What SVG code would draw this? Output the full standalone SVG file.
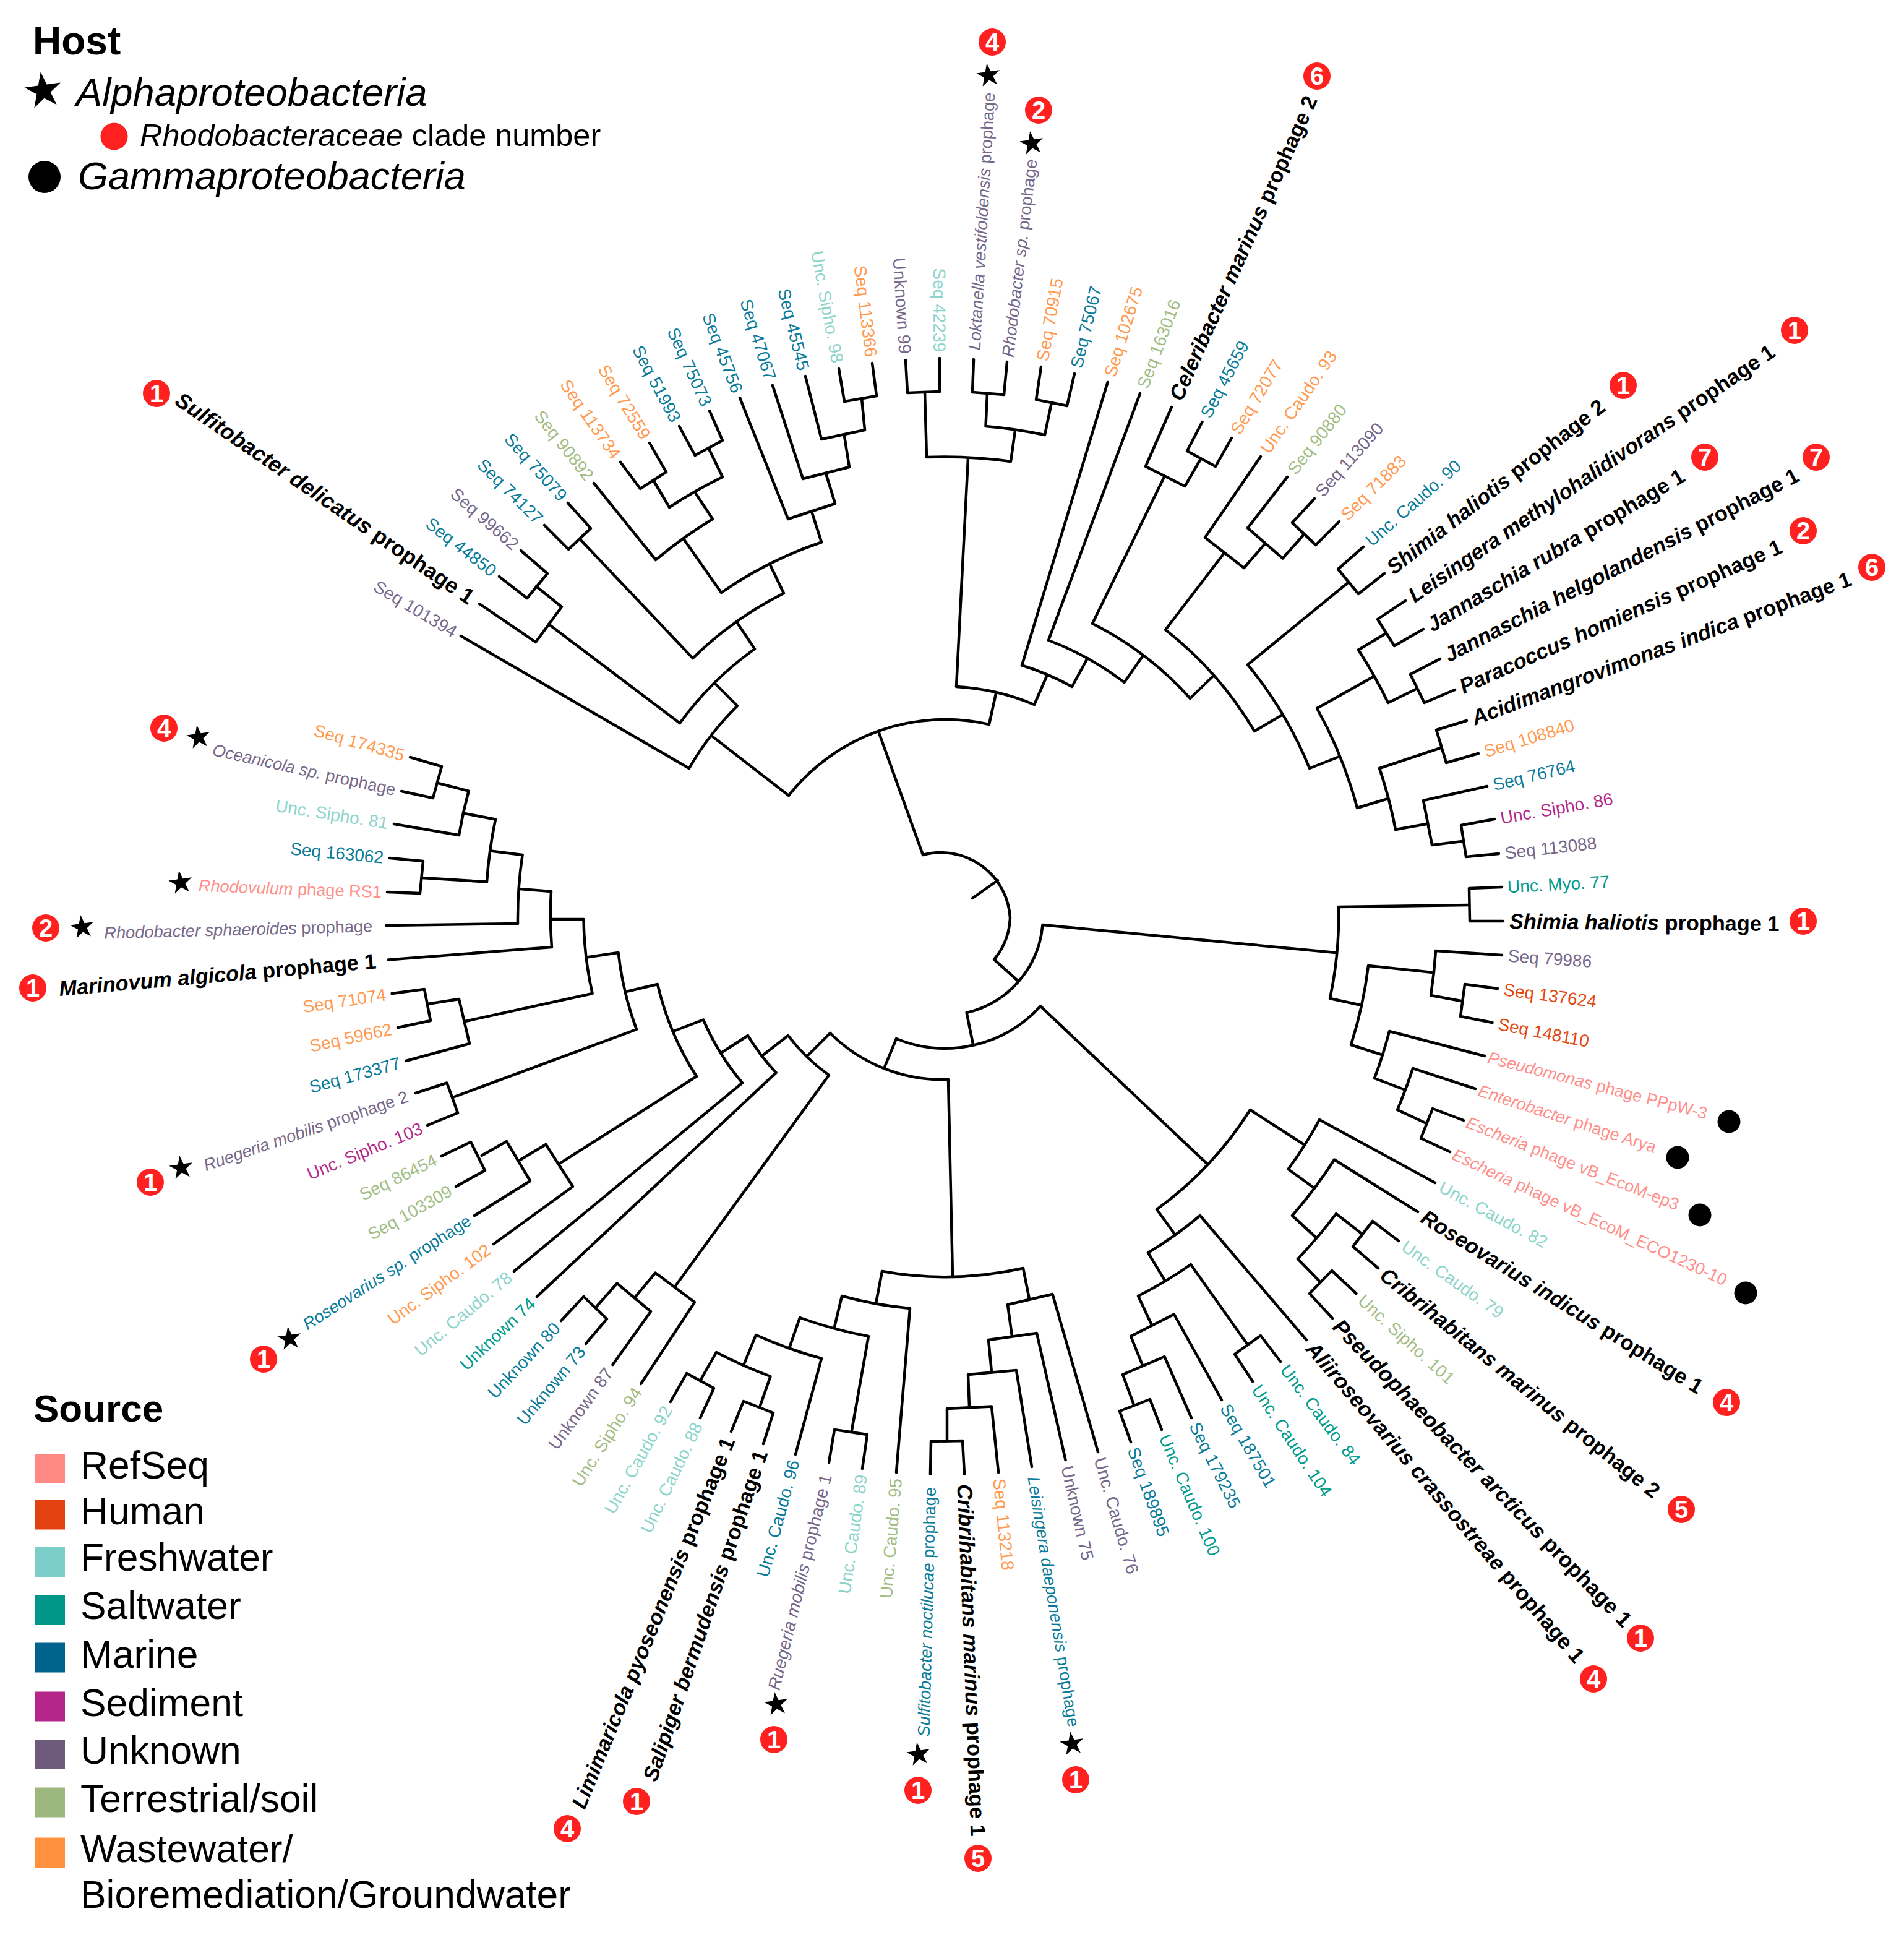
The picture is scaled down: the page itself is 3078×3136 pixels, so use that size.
<svg xmlns="http://www.w3.org/2000/svg" width="3078" height="3136" viewBox="0 0 3078 3136">
<style>
text{font-family:"Liberation Sans",Arial,sans-serif}
.l{font-size:28px}
.p{font-size:27.2px}
.k{font-size:34.3px;font-weight:bold;fill:#000}
.e{text-anchor:end}
.i{font-style:italic}
.m{fill:#0A7C9A}.u{fill:#75688A}.f{fill:#8DD5CB}.s{fill:#009C8E}.h{fill:#E2490F}.r{fill:#FF8F8A}.t{fill:#A3BD85}.w{fill:#FF9A50}.d{fill:#B5278A}
.c path{fill:none;stroke:#000;stroke-width:4.5;stroke-linejoin:round;stroke-linecap:round}
.b{fill:#FF2020}
.bt{fill:#fff;font-size:40px;font-weight:bold;text-anchor:middle;transform:translateY(2px)}
.lg{font-size:62.3px;fill:#000}
</style>
<defs>
<polygon id="star" fill="#000" transform="rotate(-8)" points="0,-20 4.5,-6.2 19,-6.2 7.3,2.4 11.8,16.2 0,7.6 -11.8,16.2 -7.3,2.4 -19,-6.2 -4.5,-6.2"/>
</defs>
<rect width="3078" height="3136" fill="#fff"/>

<g id="connectors" class="c">
<path d="M1356 596L1365 649L1417 640L1410 587"/>
<path d="M1302 608L1328 710L1398 695L1393 644"/>
<path d="M1249 623L1298 774L1373 755L1365 705"/>
<path d="M1196 643L1274 839L1350 814L1335 765"/>
<path d="M1098 689L1123.5 736L1168 712L1147 664"/>
<path d="M1003 747L1035 790L1077 763L1050 716"/>
<path d="M1056 776L1082 820A795 795 0 0 1 1168 771L1146 725.5"/>
<path d="M960 781L1060 905A744 744 0 0 1 1152 839L1125 798"/>
<path d="M1105 871L1166 958A637 637 0 0 1 1328 876.5L1312 826.5"/>
<path d="M880 849L919 888L955 854L918 813"/>
<path d="M937 871L1120 1064A582 582 0 0 1 1267 959L1245 913"/>
<path d="M807 932L852 967L885 927L842 890"/>
<path d="M775 976L866 1038L908 981L867 948"/>
<path d="M887 1009L1099 1169A529 529 0 0 1 1220 1049L1192 1007"/>
<path d="M745 1028L1114 1242A475 475 0 0 1 1192 1141L1156 1105"/>
<path d="M1464 582L1467 635L1519 633L1519 579"/>
<path d="M1574 581L1572 634L1623 638L1628 585"/>
<path d="M1683 593L1675 646L1725 656L1737 604"/>
<path d="M1596 636L1593.5 689A800 800 0 0 1 1689 703L1700 650.5"/>
<path d="M1495 634L1498 739A748 748 0 0 1 1634 746L1641 696"/>
<path d="M1565 741L1546 1110A378 378 0 0 1 1672 1139L1693 1091"/>
<path d="M1790.6 618L1652 1075.5A431 431 0 0 1 1733 1110L1758 1064"/>
<path d="M1843 636L1695 1035A484 484 0 0 1 1817.5 1103L1847 1061"/>
<path d="M1882.5 770L1766 1008A536 536 0 0 1 1924 1129L1961 1093"/>
<path d="M1943.5 682L1919 729L1965 754L1991 708"/>
<path d="M1894 658L1852 754L1915.5 786L1941 742"/>
<path d="M2125 806L2089 845L2127 881L2165 843"/>
<path d="M2081 771L2017 853.5L2073.6 902.6L2108 864"/>
<path d="M2038 738L1948 869L2011 918L2045 879"/>
<path d="M1979 894L1884 1018A590 590 0 0 1 2028 1182L2072.6 1155.6"/>
<path d="M2204 884L2163 920L2196 960L2238 927"/>
<path d="M2179 942L2017 1074.5A643 643 0 0 1 2117 1242L2165 1223"/>
<path d="M2220 1094L2129 1145A696 696 0 0 1 2194 1306L2244 1291"/>
<path d="M2241 1023.5L2196 1050.5A800 800 0 0 1 2244 1136L2289 1114"/>
<path d="M2272 971L2227 1001L2254 1044L2301 1017"/>
<path d="M2328 1065L2280 1090L2302.5 1136L2352 1115"/>
<path d="M2329 1209L2230 1242A748 748 0 0 1 2256 1341L2306 1332"/>
<path d="M2371 1165L2322 1180L2338 1233L2390 1218"/>
<path d="M2404 1271L2301 1294L2315 1366L2364 1360"/>
<path d="M2416 1324L2362 1334L2370 1385L2423 1380"/>
<path d="M2428 1434L2375 1436L2376 1489L2430 1489"/>
<path d="M2375 1463L2164 1466A640 640 0 0 1 2150 1614L2201 1625"/>
<path d="M2316 1572L2212 1561A693 693 0 0 1 2184 1689L2234 1705"/>
<path d="M2428 1544L2321 1537A799 799 0 0 1 2313 1609L2362 1618"/>
<path d="M2421 1598L2368 1591L2361 1643L2412.5 1653"/>
<path d="M2400 1707L2246 1667A745 745 0 0 1 2222 1743L2269.5 1761"/>
<path d="M2385 1760L2284 1727A796 796 0 0 1 2259 1794L2306 1816"/>
<path d="M2366 1811L2316 1792L2297 1840L2344 1862"/>
<path d="M2159.5 1540L1685.5 1495A160 160 0 0 1 1562.6 1637L1573 1688"/>
<path d="M1420 1182L1492 1382A112 112 0 0 1 1633 1484A112 112 0 0 1 1607 1551L1645 1585"/>
<path d="M1572 1452L1613 1423"/>
<path d="M1151 1190L1275 1286A322 322 0 0 1 1599 1171L1610 1121"/>
<path d="M1429.3 1726.5L1449 1679A208 208 0 0 0 1682 1626.5L1951 1881"/>
<path d="M1899 1995L1870 1955A582 582 0 0 0 2021 1794L2108.6 1850.5"/>
<path d="M2320 1912L2133 1810A670 670 0 0 1 2082.5 1890L2124 1920"/>
<path d="M2292 1959L2157 1874.5A742 742 0 0 1 2089 1965L2127 2000"/>
<path d="M2201 1994L2160 1962A793 793 0 0 1 2098 2035L2134 2072"/>
<path d="M2261 2006L2219 1974L2187 2015L2228 2050"/>
<path d="M2192.5 2091L2153 2054L2117 2091L2154 2131"/>
<path d="M1882.5 2069L1856 2025A633 633 0 0 0 1940 1965L2112 2166"/>
<path d="M1861.5 2141L1840 2095A684 684 0 0 0 1925 2044L2015 2171"/>
<path d="M2025 2233L1996 2189L2038 2159L2070 2201"/>
<path d="M1847 2207L1828 2160L1898 2124.5L1975 2263"/>
<path d="M1833 2271L1815 2222L1882.5 2193L1926 2292"/>
<path d="M1828 2331L1810 2281L1859 2262L1878 2311"/>
<path d="M1416 2107L1426 2055A576 576 0 0 0 1654 2050L1664 2100"/>
<path d="M1305 1707L1342 1670A257 257 0 0 0 1533 1745L1540 2063"/>
<path d="M1636 2160L1629 2109L1701.5 2092L1775 2347"/>
<path d="M1603 2218L1598 2166L1676 2155L1722.5 2360"/>
<path d="M1567 2273.5L1565 2222L1643 2215L1668 2371"/>
<path d="M1531 2329L1531 2277L1603 2273.5L1614 2380"/>
<path d="M1504 2383L1505 2330L1556 2329L1559 2383"/>
<path d="M1349 2145L1361 2095A640 640 0 0 0 1471 2115L1449 2380"/>
<path d="M1276 2179L1293 2130A690 690 0 0 0 1404 2160L1377 2312"/>
<path d="M1340 2364L1349 2311L1402 2319L1394 2374"/>
<path d="M1202 2207L1222 2158A735 735 0 0 0 1328 2196L1286 2351"/>
<path d="M1133 2230L1158 2186A790 790 0 0 0 1245.5 2225L1229 2272"/>
<path d="M1182 2314L1202 2265L1250 2284L1234 2334"/>
<path d="M1084 2266L1110 2220L1154 2244L1132 2292"/>
<path d="M1234 1705L1274 1674A309 309 0 0 0 1340 1738L1091 2080"/>
<path d="M1027 2096.4L1059.5 2057.5L1123 2105L1036 2237"/>
<path d="M964.6 2111.7L997.5 2074.5L1052 2120L990.5 2206"/>
<path d="M907 2135L943.5 2096L981 2132L947 2172"/>
<path d="M1168 1700.5L1209 1674A361 361 0 0 0 1254.6 1734L868 2096"/>
<path d="M1091 1666L1137 1648.5A413 413 0 0 0 1200 1750.5L831 2055"/>
<path d="M1014 1602.6L1063 1591A470 470 0 0 0 1126 1740L905 1880.6"/>
<path d="M840 1875.5L882.5 1850L926 1918L798 2011"/>
<path d="M778.7 1868L819 1845L857 1909L767 1965"/>
<path d="M713.5 1869L761 1846L784 1892L737 1918"/>
<path d="M948.4 1547.4L999.6 1540A521 521 0 0 0 1029 1664L733 1773.5"/>
<path d="M892 1486L943.5 1486A577 577 0 0 0 957.6 1606L752 1651"/>
<path d="M840.4 1437L891 1441A632 632 0 0 0 892 1531L628 1551.5"/>
<path d="M793 1375.5L844.6 1382A685 685 0 0 0 837 1493L624 1496"/>
<path d="M750.6 1315L801 1324.5A735 735 0 0 0 787 1425.5L682.6 1419"/>
<path d="M708.5 1266L757.6 1278.6A785 785 0 0 0 742 1350L637 1332"/>
<path d="M663 1224L714 1239L700 1290L649 1279"/>
<path d="M630 1387L684 1392L679 1444L626 1442"/>
<path d="M633.5 1606L686 1599L696 1650L643 1661"/>
<path d="M691 1623L742 1615L759 1687L656 1715"/>
<path d="M672 1767L722.5 1750.5L740 1799L691 1819"/>
</g>

<g id="leaf-1"><text class="l u e" x="-10" dy=".35em" transform="translate(1464 582) rotate(86.3)">Unknown 99</text></g>
<g id="leaf-2"><text class="l f e" x="-10" dy=".35em" transform="translate(1519 579) rotate(89.8)">Seq 42239</text></g>
<g id="leaf-3"><text class="p u" x="15" dy=".35em" transform="translate(1574 581) rotate(-86.7)"><tspan class="i">Loktanella vestifoldensis</tspan> prophage</text><use href="#star" x="1598" y="122"/><circle class="b" cx="1604" cy="68" r="22"/><text class="bt" x="1604" y="80">4</text></g>
<g id="leaf-4"><text class="p u" x="8" dy=".35em" transform="translate(1628 585) rotate(-83.2)"><tspan class="i">Rhodobacter sp.</tspan> prophage</text><use href="#star" x="1668" y="232"/><circle class="b" cx="1679" cy="178" r="22"/><text class="bt" x="1679" y="190">2</text></g>
<g id="leaf-5"><text class="l w" x="10" dy=".35em" transform="translate(1683 593) rotate(-79.7)">Seq 70915</text></g>
<g id="leaf-6"><text class="l m" x="10" dy=".35em" transform="translate(1737 604) rotate(-76.25)">Seq 75067</text></g>
<g id="leaf-7"><text class="l w" x="10" dy=".35em" transform="translate(1790.6 618) rotate(-72.8)">Seq 102675</text></g>
<g id="leaf-8"><text class="l t" x="10" dy=".35em" transform="translate(1843 636) rotate(-69.3)">Seq 163016</text></g>
<g id="leaf-9"><text class="k" x="14" dy=".35em" transform="translate(1894 658) rotate(-65.8)"><tspan class="i">Celeribacter marinus</tspan> prophage 2</text><circle class="b" cx="2129" cy="123" r="22"/><text class="bt" x="2129" y="135">6</text></g>
<g id="leaf-10"><text class="l m" x="10" dy=".35em" transform="translate(1943.5 682) rotate(-62.3)">Seq 45659</text></g>
<g id="leaf-11"><text class="l w" x="10" dy=".35em" transform="translate(1991 708) rotate(-58.8)">Seq 72077</text></g>
<g id="leaf-12"><text class="l w" x="10" dy=".35em" transform="translate(2038 738) rotate(-55.3)">Unc. Caudo. 93</text></g>
<g id="leaf-13"><text class="l t" x="10" dy=".35em" transform="translate(2081 771) rotate(-51.8)">Seq 90880</text></g>
<g id="leaf-14"><text class="l u" x="10" dy=".35em" transform="translate(2125 806) rotate(-48.3)">Seq 113090</text></g>
<g id="leaf-15"><text class="l w" x="10" dy=".35em" transform="translate(2165 843) rotate(-44.8)">Seq 71883</text></g>
<g id="leaf-16"><text class="l m" x="10" dy=".35em" transform="translate(2204 884) rotate(-41.35)">Unc. Caudo. 90</text></g>
<g id="leaf-17"><text class="k" x="10" dy=".35em" transform="translate(2238 927) rotate(-37.9)"><tspan class="i">Shimia haliotis</tspan> prophage 2</text><circle class="b" cx="2624" cy="623" r="22"/><text class="bt" x="2624" y="635">1</text></g>
<g id="leaf-18"><text class="k" x="10" dy=".35em" transform="translate(2272 971) rotate(-34.4)"><tspan class="i">Leisingera methylohalidivorans</tspan> prophage 1</text><circle class="b" cx="2901" cy="534" r="22"/><text class="bt" x="2901" y="546">1</text></g>
<g id="leaf-19"><text class="k" x="10" dy=".35em" transform="translate(2301 1017) rotate(-30.9)"><tspan class="i">Jannaschia rubra</tspan> prophage 1</text><circle class="b" cx="2756" cy="739" r="22"/><text class="bt" x="2756" y="751">7</text></g>
<g id="leaf-20"><text class="k" x="10" dy=".35em" transform="translate(2328 1065) rotate(-27.4)"><tspan class="i">Jannaschia helgolandensis</tspan> prophage 1</text><circle class="b" cx="2936" cy="739" r="22"/><text class="bt" x="2936" y="751">7</text></g>
<g id="leaf-21"><text class="k" x="10" dy=".35em" transform="translate(2352 1115) rotate(-23.9)"><tspan class="i">Paracoccus homiensis</tspan> prophage 1</text><circle class="b" cx="2915" cy="858" r="22"/><text class="bt" x="2915" y="870">2</text></g>
<g id="leaf-22"><text class="k" x="10" dy=".35em" transform="translate(2371 1165) rotate(-20.4)"><tspan class="i">Acidimangrovimonas indica</tspan> prophage 1</text><circle class="b" cx="3026" cy="917" r="22"/><text class="bt" x="3026" y="929">6</text></g>
<g id="leaf-23"><text class="l w" x="10" dy=".35em" transform="translate(2390 1218) rotate(-16.9)">Seq 108840</text></g>
<g id="leaf-24"><text class="l m" x="10" dy=".35em" transform="translate(2404 1271) rotate(-13.4)">Seq 76764</text></g>
<g id="leaf-25"><text class="l d" x="10" dy=".35em" transform="translate(2416 1324) rotate(-9.9)">Unc. Sipho. 86</text></g>
<g id="leaf-26"><text class="l u" x="10" dy=".35em" transform="translate(2423 1380) rotate(-6.45)">Seq 113088</text></g>
<g id="leaf-27"><text class="l s" x="9" dy=".35em" transform="translate(2428 1434) rotate(-3)">Unc. Myo. 77</text></g>
<g id="leaf-28"><text class="k" x="10" dy=".35em" transform="translate(2430 1489) rotate(.5)"><tspan class="i">Shimia haliotis</tspan> prophage 1</text><circle class="b" cx="2915" cy="1489" r="22"/><text class="bt" x="2915" y="1501">1</text></g>
<g id="leaf-29"><text class="l u" x="10" dy=".35em" transform="translate(2428 1544) rotate(4)">Seq 79986</text></g>
<g id="leaf-30"><text class="l h" x="10" dy=".35em" transform="translate(2421 1598) rotate(7.5)">Seq 137624</text></g>
<g id="leaf-31"><text class="l h" x="10" dy=".35em" transform="translate(2412.5 1653) rotate(11)">Seq 148110</text></g>
<g id="leaf-32"><text class="p r" x="6" dy=".35em" transform="translate(2400 1707) rotate(14.5)"><tspan class="i">Pseudomonas</tspan> phage PPpW-3</text><circle cx="2795" cy="1813" r="18.5"/></g>
<g id="leaf-33"><text class="p r" x="6" dy=".35em" transform="translate(2385 1760) rotate(18)"><tspan class="i">Enterobacter</tspan> phage Arya</text><circle cx="2712" cy="1871" r="18.5"/></g>
<g id="leaf-34"><text class="p r" x="6" dy=".35em" transform="translate(2366 1811) rotate(21.5)"><tspan class="i">Escheria</tspan> phage vB_EcoM-ep3</text><circle cx="2748" cy="1964" r="18.5"/></g>
<g id="leaf-35"><text class="p r" x="6" dy=".35em" transform="translate(2344 1862) rotate(25)"><tspan class="i">Escheria</tspan> phage vB_EcoM_ECO1230-10</text><circle cx="2822" cy="2090" r="18.5"/></g>
<g id="leaf-36"><text class="l f" x="10" dy=".35em" transform="translate(2320 1912) rotate(28.45)">Unc. Caudo. 82</text></g>
<g id="leaf-37"><text class="k" x="10" dy=".35em" transform="translate(2292 1959) rotate(31.9)"><tspan class="i">Roseovarius indicus</tspan> prophage 1</text><circle class="b" cx="2791" cy="2267" r="22"/><text class="bt" x="2791" y="2279">4</text></g>
<g id="leaf-38"><text class="l f" x="10" dy=".35em" transform="translate(2261 2006) rotate(35.4)">Unc. Caudo. 79</text></g>
<g id="leaf-39"><text class="k" x="10" dy=".35em" transform="translate(2228 2050) rotate(38.9)"><tspan class="i">Cribrihabitans marinus</tspan> prophage 2</text><circle class="b" cx="2718" cy="2440" r="22"/><text class="bt" x="2718" y="2452">5</text></g>
<g id="leaf-40"><text class="l t" x="10" dy=".35em" transform="translate(2192.5 2091) rotate(42.4)">Unc. Sipho. 101</text></g>
<g id="leaf-41"><text class="k" x="10" dy=".35em" font-size="35" style="font-size:35px" transform="translate(2154 2131) rotate(45.9)"><tspan class="i">Pseudophaeobacter arcticus</tspan> prophage 1</text><circle class="b" cx="2652" cy="2648" r="22"/><text class="bt" x="2652" y="2660">1</text></g>
<g id="leaf-42"><text class="k" x="10" dy=".35em" style="font-size:34.7px" transform="translate(2112 2166) rotate(49.4)"><tspan class="i">Aliiroseovarius crassostreae</tspan> prophage 1</text><circle class="b" cx="2576" cy="2714" r="22"/><text class="bt" x="2576" y="2726">4</text></g>
<g id="leaf-43"><text class="l s" x="10" dy=".35em" transform="translate(2070 2201) rotate(52.9)">Unc. Caudo. 84</text></g>
<g id="leaf-44"><text class="l s" x="10" dy=".35em" transform="translate(2025 2233) rotate(56.4)">Unc. Caudo. 104</text></g>
<g id="leaf-45"><text class="l m" x="10" dy=".35em" transform="translate(1975 2263) rotate(59.9)">Seq 187501</text></g>
<g id="leaf-46"><text class="l m" x="10" dy=".35em" transform="translate(1926 2292) rotate(63.35)">Seq 179235</text></g>
<g id="leaf-47"><text class="l s" x="10" dy=".35em" transform="translate(1878 2311) rotate(66.8)">Unc. Caudo. 100</text></g>
<g id="leaf-48"><text class="l m" x="10" dy=".35em" transform="translate(1828 2331) rotate(70.3)">Seq 189895</text></g>
<g id="leaf-49"><text class="l u" x="10" dy=".35em" transform="translate(1775 2347) rotate(73.8)">Unc. Caudo. 76</text></g>
<g id="leaf-50"><text class="l u" x="10" dy=".35em" transform="translate(1722.5 2360) rotate(77.3)">Unknown 75</text></g>
<g id="leaf-51"><text class="p m" x="16" dy=".35em" transform="translate(1668 2371) rotate(80.8)"><tspan class="i">Leisingera daeponensis</tspan> prophage</text><use href="#star" x="1733" y="2819"/><circle class="b" cx="1739" cy="2877" r="22"/><text class="bt" x="1739" y="2889">1</text></g>
<g id="leaf-52"><text class="l w" x="10" dy=".35em" transform="translate(1614 2380) rotate(84.3)">Seq 113218</text></g>
<g id="leaf-53"><text class="k" x="16" dy=".35em" transform="translate(1559 2383) rotate(87.8)"><tspan class="i">Cribrihabitans marinus</tspan> prophage 1</text><circle class="b" cx="1581" cy="3004" r="22"/><text class="bt" x="1581" y="3016">5</text></g>
<g id="leaf-54"><text class="p m e" x="-21" dy=".35em" transform="translate(1504 2383) rotate(-88.5)"><tspan class="i">Sulfitobacter noctilucae</tspan> prophage</text><use href="#star" x="1485" y="2836"/><circle class="b" cx="1484" cy="2894" r="22"/><text class="bt" x="1484" y="2906">1</text></g>
<g id="leaf-55"><text class="l t e" x="-10" dy=".35em" transform="translate(1449 2380) rotate(-85.2)">Unc. Caudo. 95</text></g>
<g id="leaf-56"><text class="l f e" x="-10" dy=".35em" transform="translate(1394 2374) rotate(-81.75)">Unc. Caudo. 89</text></g>
<g id="leaf-57"><text class="l u e" x="-20" dy=".35em" transform="translate(1340 2364) rotate(-76.3)"><tspan class="i">Ruegeria mobilis</tspan> prophage 1</text><use href="#star" x="1255" y="2755"/><circle class="b" cx="1251" cy="2812" r="22"/><text class="bt" x="1251" y="2824">1</text></g>
<g id="leaf-58"><text class="l m e" x="-10" dy=".35em" transform="translate(1286 2351) rotate(-74.8)">Unc. Caudo. 96</text></g>
<g id="leaf-59"><text class="k e" x="-12" dy=".35em" transform="translate(1234 2334) rotate(-71.3)"><tspan class="i">Salipiger bermudensis</tspan> prophage 1</text><circle class="b" cx="1029" cy="2912" r="22"/><text class="bt" x="1029" y="2924">1</text></g>
<g id="leaf-60"><text class="k e" x="-12" dy=".35em" transform="translate(1182 2314) rotate(-67.8)"><tspan class="i">Limimaricola pyoseonensis</tspan> prophage 1</text><circle class="b" cx="917" cy="2956" r="22"/><text class="bt" x="917" y="2968">4</text></g>
<g id="leaf-61"><text class="l f e" x="-10" dy=".35em" transform="translate(1132 2292) rotate(-64.3)">Unc. Caudo. 88</text></g>
<g id="leaf-62"><text class="l f e" x="-10" dy=".35em" transform="translate(1084 2266) rotate(-60.8)">Unc. Caudo. 92</text></g>
<g id="leaf-63"><text class="l t e" x="-10" dy=".35em" transform="translate(1036 2237) rotate(-57.3)">Unc. Sipho. 94</text></g>
<g id="leaf-64"><text class="l u e" x="-10" dy=".35em" transform="translate(990.5 2206) rotate(-53.8)">Unknown 87</text></g>
<g id="leaf-65"><text class="l m e" x="-10" dy=".35em" transform="translate(947 2172) rotate(-50.3)">Unknown 73</text></g>
<g id="leaf-66"><text class="l m e" x="-10" dy=".35em" transform="translate(907 2135) rotate(-46.85)">Unknown 80</text></g>
<g id="leaf-67"><text class="l s e" x="-10" dy=".35em" transform="translate(868 2096) rotate(-43.4)">Unknown 74</text></g>
<g id="leaf-68"><text class="l f e" x="-10" dy=".35em" transform="translate(831 2055) rotate(-39.9)">Unc. Caudo. 78</text></g>
<g id="leaf-69"><text class="l w e" x="-10" dy=".35em" transform="translate(798 2011) rotate(-36.4)">Unc. Sipho. 102</text></g>
<g id="leaf-70"><text class="p m e" x="-10" dy=".35em" transform="translate(767 1965) rotate(-32.9)"><tspan class="i">Roseovarius sp.</tspan> prophage</text><use href="#star" x="468" y="2164"/><circle class="b" cx="426" cy="2197" r="22"/><text class="bt" x="426" y="2209">1</text></g>
<g id="leaf-71"><text class="l t e" x="-10" dy=".35em" transform="translate(737 1918) rotate(-29.4)">Seq 103309</text></g>
<g id="leaf-72"><text class="l t e" x="-10" dy=".35em" transform="translate(713.5 1869) rotate(-25.9)">Seq 86454</text></g>
<g id="leaf-73"><text class="l d e" x="-10" dy=".35em" transform="translate(691 1819) rotate(-22.4)">Unc. Sipho. 103</text></g>
<g id="leaf-74"><text class="p u e" x="-14" dy=".35em" transform="translate(672 1767) rotate(-18.9)"><tspan class="i">Ruegeria mobilis</tspan> prophage 2</text><use href="#star" x="293" y="1888"/><circle class="b" cx="243" cy="1911" r="22"/><text class="bt" x="243" y="1923">1</text></g>
<g id="leaf-75"><text class="l m e" x="-10" dy=".35em" transform="translate(656 1715) rotate(-15.4)">Seq 173377</text></g>
<g id="leaf-76"><text class="l w e" x="-10" dy=".35em" transform="translate(643 1661) rotate(-11.95)">Seq 59662</text></g>
<g id="leaf-77"><text class="l w e" x="-10" dy=".35em" transform="translate(633.5 1606) rotate(-8.5)">Seq 71074</text></g>
<g id="leaf-78"><text class="k e" x="-20" dy=".35em" transform="translate(628 1551.5) rotate(-5)"><tspan class="i">Marinovum algicola</tspan> prophage 1</text><circle class="b" cx="53" cy="1597" r="22"/><text class="bt" x="53" y="1609">1</text></g>
<g id="leaf-79"><text class="p u e" x="-22" dy=".35em" transform="translate(624 1496) rotate(-1.5)"><tspan class="i">Rhodobacter sphaeroides</tspan> prophage</text><use href="#star" x="133" y="1499"/><circle class="b" cx="74" cy="1500" r="22"/><text class="bt" x="74" y="1512">2</text></g>
<g id="leaf-80"><text class="p r e" x="-9" dy=".35em" transform="translate(626 1442) rotate(2)"><tspan class="i">Rhodovulum</tspan> phage RS1</text><use href="#star" x="292" y="1427"/></g>
<g id="leaf-81"><text class="l m e" x="-10" dy=".35em" transform="translate(630 1387) rotate(5.5)">Seq 163062</text></g>
<g id="leaf-82"><text class="l f e" x="-10" dy=".35em" transform="translate(637 1332) rotate(9)">Unc. Sipho. 81</text></g>
<g id="leaf-83"><text class="p u e" x="-10" dy=".35em" transform="translate(649 1279) rotate(12.5)"><tspan class="i">Oceanicola sp.</tspan> prophage</text><use href="#star" x="321" y="1192"/><circle class="b" cx="265" cy="1177" r="22"/><text class="bt" x="265" y="1189">4</text></g>
<g id="leaf-84"><text class="l w e" x="-10" dy=".35em" transform="translate(663 1224) rotate(16)">Seq 174335</text></g>
<g id="leaf-85"><text class="l u e" x="-10" dy=".35em" transform="translate(745 1028) rotate(30.9)">Seq 101394</text></g>
<g id="leaf-86"><text class="k e" x="-14" dy=".35em" style="font-size:35.2px" transform="translate(775 976) rotate(34.4)"><tspan class="i">Sulfitobacter delicatus</tspan> prophage 1</text><circle class="b" cx="253" cy="636" r="22"/><text class="bt" x="253" y="648">1</text></g>
<g id="leaf-87"><text class="l m e" x="-10" dy=".35em" transform="translate(807 932) rotate(37.8)">Seq 44850</text></g>
<g id="leaf-88"><text class="l u e" x="-10" dy=".35em" transform="translate(842 890) rotate(41.3)">Seq 99662</text></g>
<g id="leaf-89"><text class="l m e" x="-10" dy=".35em" transform="translate(880 849) rotate(44.8)">Seq 74127</text></g>
<g id="leaf-90"><text class="l m e" x="-10" dy=".35em" transform="translate(918 813) rotate(48.2)">Seq 75079</text></g>
<g id="leaf-91"><text class="l t e" x="-10" dy=".35em" transform="translate(960 781) rotate(51.7)">Seq 90892</text></g>
<g id="leaf-92"><text class="l w e" x="-10" dy=".35em" transform="translate(1003 747) rotate(55.2)">Seq 113734</text></g>
<g id="leaf-93"><text class="l w e" x="-10" dy=".35em" transform="translate(1050 716) rotate(58.6)">Seq 72559</text></g>
<g id="leaf-94"><text class="l m e" x="-10" dy=".35em" transform="translate(1098 689) rotate(62.1)">Seq 51993</text></g>
<g id="leaf-95"><text class="l m e" x="-10" dy=".35em" transform="translate(1147 664) rotate(65.6)">Seq 75073</text></g>
<g id="leaf-96"><text class="l m e" x="-10" dy=".35em" transform="translate(1196 643) rotate(69)">Seq 45756</text></g>
<g id="leaf-97"><text class="l m e" x="-10" dy=".35em" transform="translate(1249 623) rotate(72.5)">Seq 47067</text></g>
<g id="leaf-98"><text class="l m e" x="-10" dy=".35em" transform="translate(1302 608) rotate(76)">Seq 45545</text></g>
<g id="leaf-99"><text class="l f e" x="-10" dy=".35em" transform="translate(1356 596) rotate(79.45)">Unc. Sipho. 98</text></g>
<g id="leaf-100"><text class="l w e" x="-10" dy=".35em" transform="translate(1410 587) rotate(82.9)">Seq 113366</text></g>

<g id="legend-host">
<text x="53" y="88" font-size="64" font-weight="bold">Host</text>
<use href="#star" transform="translate(70 147) scale(1.55)"/>
<text x="123" y="171" font-size="63.4" font-style="italic">Alphaproteobacteria</text>
<circle class="b" cx="184.5" cy="220.5" r="22"/>
<text x="226" y="235.5" font-size="50.4"><tspan font-style="italic">Rhodobacteraceae</tspan> clade number</text>
<circle cx="72" cy="286" r="26"/>
<text x="126" y="306" font-size="63" font-style="italic">Gammaproteobacteria</text>
</g>
<g id="legend-source">
<text x="54" y="2298" font-size="62" font-weight="bold">Source</text>
<rect x="56" y="2350" width="49" height="47.5" fill="#FF8A84"/><text class="lg" x="130" y="2390">RefSeq</text>
<rect x="56" y="2424.5" width="49" height="48" fill="#E2420F"/><text class="lg" x="130" y="2464">Human</text>
<rect x="56" y="2501" width="49" height="48" fill="#7CCFC9"/><text class="lg" x="130" y="2539">Freshwater</text>
<rect x="56" y="2578.5" width="49" height="48" fill="#009688"/><text class="lg" x="130" y="2617">Saltwater</text>
<rect x="56" y="2655.5" width="49" height="48" fill="#00638C"/><text class="lg" x="130" y="2696">Marine</text>
<rect x="56" y="2734.5" width="49" height="48" fill="#B5268A"/><text class="lg" x="130" y="2774">Sediment</text>
<rect x="56" y="2812" width="49" height="48" fill="#6E5B7B"/><text class="lg" x="130" y="2851">Unknown</text>
<rect x="56" y="2889.5" width="49" height="48" fill="#9DB87F"/><text class="lg" x="130" y="2929">Terrestrial/soil</text>
<rect x="56" y="2970.5" width="49" height="48.5" fill="#FF913F"/><text class="lg" x="130" y="3010">Wastewater/</text>
<text class="lg" x="130" y="3084">Bioremediation/Groundwater</text>
</g>
</svg>
